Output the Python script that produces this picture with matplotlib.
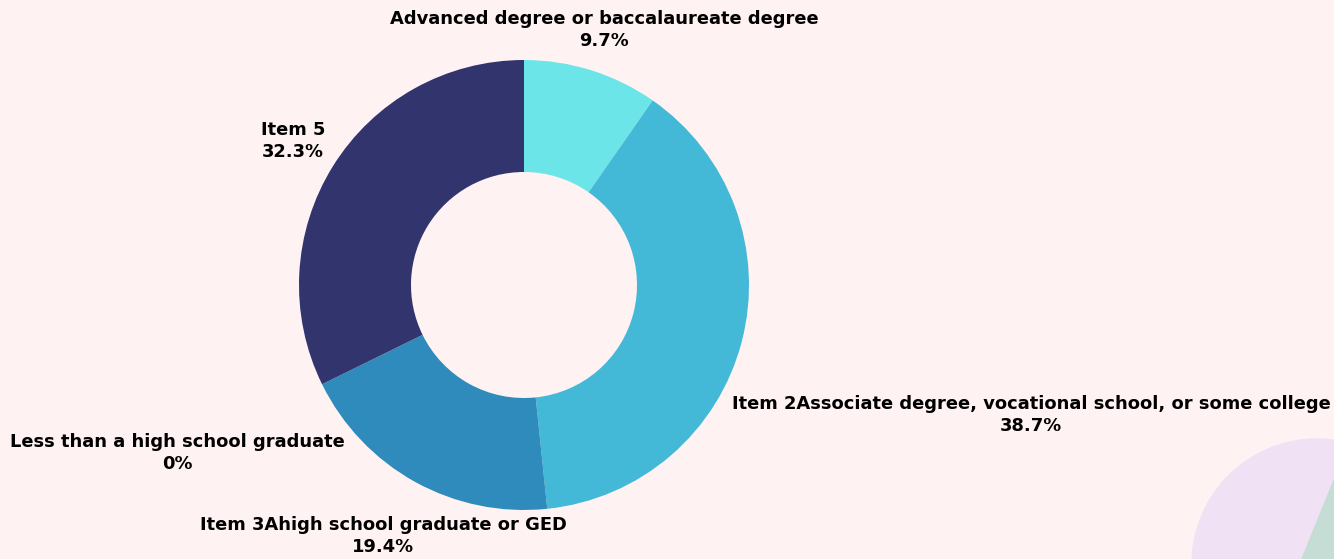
import matplotlib.pyplot as plt
from matplotlib.patches import Circle, Polygon

labels = ["Advanced degree or baccalaureate degree",
          "Item 2Associate degree, vocational school, or some college",
          "Item 3Ahigh school graduate or GED",
          "Less than a high school graduate",
          "Item 5"]
values = [9.7, 38.7, 19.4, 0.0, 32.3]
colors = ["#6BE5E8", "#43B8D7", "#2E8BBB", "#2A5C8C", "#31346D"]

# label anchor points (pixel coords, y from top)
label_pos = [(604, 30), (1031, 415), (383, 536), (177, 453), (293, 141)]

W, H = 1334, 559
bg = "#FFF2F2"

fig = plt.figure(figsize=(W / 100, H / 100), dpi=100, facecolor=bg)
ax = fig.add_axes([0, 0, 1, 1])
ax.set_facecolor(bg)

# decorative shapes bottom right
deco = Circle((1317, H - 564), 125, color="#F1E1F4", zorder=0)
ax.add_patch(deco)
green = Polygon([(1302, H - 559), (1334, H - 480), (1334, -50), (1280, -50)],
                closed=True, color="#C5DDD5", zorder=0.5)
green.set_clip_path(deco)
ax.add_patch(green)

ax.pie(values, colors=colors, startangle=90, counterclock=False,
       center=(524, H - 285), radius=225, frame=True,
       wedgeprops=dict(width=112, linewidth=0))

for lab, v, (x, y) in zip(labels, values, label_pos):
    ax.text(x, H - y, f"{lab}\n{v:g}%", ha="center", va="center",
            multialignment="center", fontsize=12.9, fontweight="bold",
            color="#000000", family="DejaVu Sans", linespacing=1.3)

ax.set_xlim(0, W)
ax.set_ylim(0, H)
ax.set_aspect("auto")
ax.axis("off")

fig.savefig("out.png", dpi=100, facecolor=bg)
